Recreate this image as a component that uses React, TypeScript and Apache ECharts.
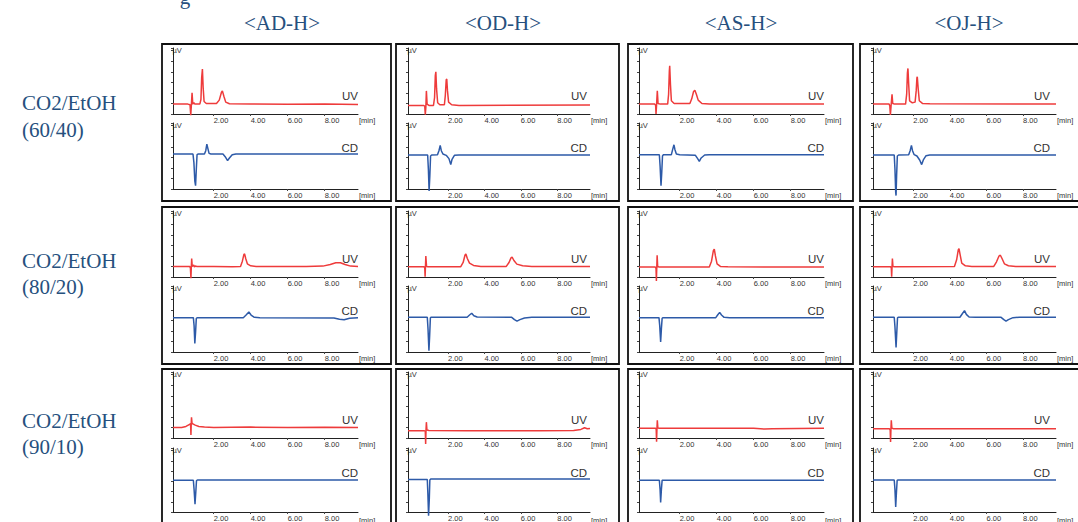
import React, { useEffect, useRef } from "react";
import * as echarts from "echarts";

// ---------- labels ----------
const columnTitles = ["<AD-H>", "<OD-H>", "<AS-H>", "<OJ-H>"];
const rowTitle = "CO2/EtOH";
const rowRatios = ["(60/40)", "(80/20)", "(90/10)"];
const xTickValues = [2, 4, 6, 8];
const traceNames = ["UV", "CD"];

// ---------- data: [time (min), signal (relative)] ----------
// row 1: CO2/EtOH 60/40
const uv_AD_60 = [[-0.2,15],[0.6,15],[0.72,14],[0.76,-2],[0.79,12],[0.83,32],[0.87,15],[0.93,17],[0.98,15],[1.25,15],[1.31,22],[1.35,55],[1.39,68],[1.43,40],[1.48,19],[1.6,16],[2.15,16],[2.3,21],[2.42,33],[2.47,35],[2.55,27],[2.65,18],[2.85,15.5],[4,15],[6,14.8],[8,15],[9.8,14.5]];
const cd_AD_60 = [[-0.2,53],[0.88,53],[0.93,40],[0.98,12],[1.02,5],[1.06,30],[1.1,52],[1.15,53],[1.5,53],[1.57,58],[1.63,68],[1.68,62],[1.75,54],[1.85,53],[2.5,53],[2.62,49],[2.75,43],[2.85,47],[3.0,52],[3.2,53],[9.8,53]];
const uv_OD_60 = [[-0.2,13],[0.65,13],[0.72,12],[0.75,-1],[0.78,10],[0.81,35],[0.85,15],[0.95,13],[1.2,13],[1.26,25],[1.3,58],[1.33,64],[1.37,38],[1.43,17],[1.55,14],[1.8,14],[1.85,28],[1.9,52],[1.93,53],[1.97,35],[2.03,18],[2.2,14],[2.6,13],[9.8,13.5]];
const cd_OD_60 = [[-0.2,51.5],[0.88,51.5],[0.92,30],[0.96,-3],[1.0,20],[1.04,50],[1.1,51.5],[1.42,52],[1.5,58],[1.57,66],[1.63,58],[1.72,53],[1.9,51],[2.05,46],[2.15,37],[2.22,45],[2.35,51],[2.6,51.5],[9.8,51.5]];
const uv_AS_60 = [[-0.2,15],[0.65,15],[0.7,13],[0.72,0],[0.75,14],[0.79,35],[0.83,16],[0.95,15],[1.35,15],[1.4,30],[1.44,65],[1.46,73],[1.5,45],[1.55,20],[1.7,16],[2.55,16],[2.65,23],[2.75,34],[2.82,36],[2.9,30],[3.0,21],[3.2,16],[3.6,15],[9.8,15]];
const cd_AS_60 = [[-0.2,52],[0.9,52],[0.94,35],[0.99,5],[1.03,25],[1.07,50],[1.12,52],[1.55,52],[1.62,60],[1.69,67],[1.74,60],[1.82,53],[2.0,52],[2.85,51],[2.97,46],[3.06,42],[3.16,47],[3.35,51.5],[3.6,52],[9.8,52]];
const uv_OJ_60 = [[-0.2,15],[0.68,15],[0.72,12],[0.75,-1.5],[0.79,13],[0.84,30],[0.88,16],[0.98,15],[1.58,15],[1.64,30],[1.68,62],[1.71,69],[1.75,45],[1.8,20],[1.95,17],[2.1,18],[2.16,35],[2.2,55],[2.22,56.5],[2.27,38],[2.33,20],[2.5,16],[2.9,15.5],[9.8,15]];
const cd_OJ_60 = [[-0.2,51.5],[0.96,51.5],[1.0,30],[1.04,-5],[1.06,-10],[1.09,20],[1.13,50],[1.2,51.5],[1.75,52],[1.83,58],[1.9,66],[1.96,58],[2.05,52],[2.2,50],[2.35,44],[2.46,37],[2.55,44],[2.7,50.5],[2.9,51.5],[9.8,51.5]];

// row 2: CO2/EtOH 80/20
const uv_AD_80 = [[-0.2,16],[0.7,16],[0.74,14],[0.77,-2],[0.79,15],[0.81,28],[0.84,16],[0.92,18],[0.96,15],[1.0,16.5],[1.1,16],[2.0,15.8],[3.0,15.5],[3.45,16],[3.55,24],[3.63,34],[3.67,35],[3.73,28],[3.82,20],[4.0,17],[4.3,16],[5.0,15.8],[7.0,15.8],[7.9,16.5],[8.3,19],[8.6,21.5],[8.85,21.7],[9.1,19],[9.4,16.5],[9.8,16]];
const cd_AD_80 = [[-0.2,52],[0.9,52],[0.94,40],[0.98,13],[1.02,30],[1.06,51],[1.12,52],[3.6,52],[3.75,56],[3.9,60.5],[4.02,56],[4.2,52.5],[4.5,52],[8.5,51.5],[8.8,49.5],[9.05,49],[9.35,51],[9.8,52]];
const uv_OD_80 = [[-0.2,15.6],[0.68,15.6],[0.72,14],[0.74,0.5],[0.76,16],[0.78,31.8],[0.82,16],[0.9,15.6],[2.7,15.6],[2.83,22],[2.93,33],[2.98,35],[3.06,28],[3.18,21],[3.4,17.5],[3.8,16],[5.2,16],[5.35,22],[5.46,29],[5.52,30],[5.62,25],[5.78,19.5],[6.1,17],[6.6,16],[9.8,16]];
const cd_OD_80 = [[-0.2,52.7],[0.86,52.7],[0.9,35],[0.95,2],[0.99,25],[1.03,52],[1.08,52.7],[3.05,52.7],[3.18,56],[3.3,58.7],[3.42,55],[3.6,53],[5.5,52.5],[5.65,49],[5.79,46.7],[5.95,49],[6.2,51.5],[6.6,52.5],[9.8,52.5]];
const uv_AS_80 = [[-0.2,15],[0.68,15],[0.72,13],[0.74,-6],[0.76,14],[0.78,33],[0.81,16],[0.9,15],[3.6,15.2],[3.72,24],[3.82,40],[3.87,42.4],[3.93,32],[4.02,20],[4.2,16],[4.6,15.5],[9.8,15]];
const cd_AS_80 = [[-0.2,52],[0.88,52],[0.92,40],[0.97,15.4],[1.01,35],[1.05,51],[1.1,52],[3.95,52],[4.06,56.5],[4.16,60],[4.26,56],[4.4,52.5],[4.7,52],[9.8,52]];
const uv_OJ_80 = [[-0.2,15.6],[0.76,15.6],[0.8,14],[0.82,0.5],[0.84,15],[0.86,28],[0.89,16],[0.98,15.6],[4.25,15.8],[4.37,26],[4.46,41],[4.5,43],[4.56,34],[4.65,21],[4.85,17],[5.2,16],[6.4,16],[6.55,23],[6.68,31.5],[6.76,33],[6.85,28],[6.98,20],[7.2,17],[7.6,16],[9.8,16]];
const cd_OJ_80 = [[-0.2,52.7],[0.96,52.7],[1.0,38],[1.06,7],[1.1,30],[1.14,52],[1.2,52.7],[4.55,52.7],[4.68,58],[4.8,62.7],[4.9,57],[5.05,53],[5.4,52.7],[6.8,52.5],[6.95,49],[7.07,46.7],[7.2,49],[7.45,52],[7.8,52.7],[9.8,52.7]];

// row 3: CO2/EtOH 90/10
const uv_AD_90 = [[-0.2,16],[0.27,16],[0.5,17.5],[0.65,20],[0.72,21],[0.75,22],[0.77,4.5],[0.79,25],[0.8,31.3],[0.83,22],[0.9,21],[1.0,19.5],[1.2,17.5],[1.5,16.5],[2.0,16],[4.0,16.5],[6.0,16],[8,16.3],[9.8,16]];
const cd_AD_90 = [[-0.2,49.7],[0.9,49.7],[0.94,35],[0.99,12.3],[1.03,30],[1.07,49],[1.12,50],[9.8,50]];
const uv_OD_90 = [[-0.2,11],[0.7,11],[0.75,10],[0.77,-9],[0.79,12],[0.81,24],[0.84,12],[0.95,11.5],[3,11],[5,11],[7,11],[8.9,11.5],[9.3,13],[9.5,15.6],[9.65,14],[9.8,14.5]];
const cd_OD_90 = [[-0.2,50.8],[0.86,50.8],[0.89,30],[0.93,-5.7],[0.97,20],[1.0,50],[1.05,51.5],[9.8,51.5]];
const uv_AS_90 = [[-0.2,14.7],[0.7,14.7],[0.73,13],[0.75,-5.6],[0.77,14],[0.79,27],[0.82,15],[0.9,14.7],[6.0,14.7],[6.6,13.5],[7.0,14],[9.8,14.7]];
const cd_AS_90 = [[-0.2,49.7],[0.9,49.7],[0.94,35],[0.97,15],[1.01,35],[1.05,49.5],[1.1,49.7],[9.8,49.7]];
const uv_OJ_90 = [[-0.2,14],[0.7,14],[0.74,12],[0.76,-6],[0.78,13],[0.8,27],[0.83,15],[0.92,14],[9.8,14]];
const cd_OJ_90 = [[-0.2,50],[0.96,50],[1.0,35],[1.04,7.7],[1.08,30],[1.12,49.5],[1.18,50],[9.8,50]];

const uvData = [
  [uv_AD_60, uv_OD_60, uv_AS_60, uv_OJ_60],
  [uv_AD_80, uv_OD_80, uv_AS_80, uv_OJ_80],
  [uv_AD_90, uv_OD_90, uv_AS_90, uv_OJ_90],
];
const cdData = [
  [cd_AD_60, cd_OD_60, cd_AS_60, cd_OJ_60],
  [cd_AD_80, cd_OD_80, cd_AS_80, cd_OJ_80],
  [cd_AD_90, cd_OD_90, cd_AS_90, cd_OJ_90],
];

// ---------- layout ----------
const boxLeft = [162, 396, 628, 860];
const boxRight = [391, 619, 853, 1086];
const boxTop = [44, 207, 369];
const boxBottom = [201, 364, 530];
const gridLeft = [173, 408, 639, 873];
const gridWidth = [185, 182, 185, 183];
const uvTop = [48, 211, 372];
const cdTop = [123, 286, 448];
const gridH = 66;
const labelShift = [0, 3, 0, 6];
const titleX = [282, 503, 741, 969];
const rowY1 = [103, 261, 421];
const rowY2 = [130, 287, 447];

const UV_COLOR = "#ee3b3b";
const CD_COLOR = "#2d5aa8";
const TEXT_BLUE = "#26507e";
const SERIF = "'Liberation Serif', 'Times New Roman', serif";
const SANS = "'Liberation Sans', Arial, sans-serif";

export default function App() {
  const ref = useRef<HTMLDivElement>(null);

  useEffect(() => {
    if (!ref.current) return;
    const chart = echarts.init(ref.current, null, { renderer: "svg" });

    const grids: any[] = [];
    const xAxes: any[] = [];
    const yAxes: any[] = [];
    const series: any[] = [];
    const graphics: any[] = [];

    columnTitles.forEach((t, c) => {
      graphics.push({
        type: "text", x: titleX[c], y: 23,
        style: { text: t, fontSize: 21, fontFamily: SERIF, fill: TEXT_BLUE, align: "center", verticalAlign: "middle" },
      });
    });
    graphics.push({
      type: "text", x: 185, y: -3,
      style: { text: "g", fontSize: 21, fontFamily: SERIF, fill: TEXT_BLUE, align: "center", verticalAlign: "middle" },
    });

    rowRatios.forEach((ratio, r) => {
      graphics.push({
        type: "text", x: 22, y: rowY1[r],
        style: { text: rowTitle, fontSize: 21, fontFamily: SERIF, fill: TEXT_BLUE, align: "left", verticalAlign: "middle" },
      });
      graphics.push({
        type: "text", x: 22, y: rowY2[r],
        style: { text: ratio, fontSize: 21, fontFamily: SERIF, fill: TEXT_BLUE, align: "left", verticalAlign: "middle" },
      });
    });

    let i = 0;
    for (let r = 0; r < 3; r++) {
      for (let c = 0; c < 4; c++) {
        graphics.push({
          type: "rect", z: 10,
          shape: { x: boxLeft[c], y: boxTop[r], width: boxRight[c] - boxLeft[c], height: boxBottom[r] - boxTop[r] },
          style: { fill: "none", stroke: "#111", lineWidth: 1.8 },
        });
        for (let k = 0; k < 2; k++) {
          const top = k === 0 ? uvTop[r] : cdTop[r];
          const left = gridLeft[c];
          const w = gridWidth[c];
          grids.push({ left, top, width: w, height: gridH });
          xAxes.push({
            gridIndex: i, type: "value", min: -0.2, max: 9.8,
            axisLine: { onZero: false, lineStyle: { color: "#222", width: 1 } },
            axisTick: { show: true, customValues: xTickValues, length: 2, lineStyle: { color: "#444" } },
            axisLabel: {
              show: true, customValues: xTickValues, formatter: (v: number) => v.toFixed(2),
              align: "left", margin: 2, fontSize: 7.5, color: "#333", fontFamily: SANS,
            },
            splitLine: { show: false },
          });
          yAxes.push({
            gridIndex: i, type: "value", min: 0, max: 100, interval: 16,
            axisLine: { show: true, onZero: false, lineStyle: { color: "#222", width: 1 } },
            axisTick: { show: true, length: 2, lineStyle: { color: "#444" } },
            axisLabel: { show: false },
            splitLine: { show: false },
          });
          series.push({
            type: "line", xAxisIndex: i, yAxisIndex: i,
            data: k === 0 ? uvData[r][c] : cdData[r][c],
            showSymbol: false, symbol: "none", clip: false, silent: true,
            lineStyle: { width: 1.5, color: k === 0 ? UV_COLOR : CD_COLOR },
            itemStyle: { color: k === 0 ? UV_COLOR : CD_COLOR },
          });
          graphics.push({
            type: "text", x: left - 0.5, y: top - 1.5,
            style: { text: "µV", fontSize: 7.5, fontFamily: SANS, fill: "#333", align: "left", verticalAlign: "top" },
          });
          graphics.push({
            type: "text", x: left + w + 1, y: top + gridH + 6,
            style: { text: "[min]", fontSize: 7.5, fontFamily: SANS, fill: "#333", align: "left", verticalAlign: "middle" },
          });
          graphics.push({
            type: "text", x: left + w - labelShift[c], y: top + (k === 0 ? 48 : 25),
            style: { text: traceNames[k], fontSize: 11.5, fontFamily: SANS, fill: "#333", align: "right", verticalAlign: "middle" },
          });
          i++;
        }
      }
    }

    chart.setOption({
      animation: false,
      backgroundColor: "#ffffff",
      grid: grids,
      xAxis: xAxes,
      yAxis: yAxes,
      series,
      graphic: graphics,
    });

    return () => chart.dispose();
  }, []);

  return (
    <div
      ref={ref}
      style={{ position: "fixed", left: 0, top: 0, width: 1078, height: 522, background: "#fff" }}
    />
  );
}
